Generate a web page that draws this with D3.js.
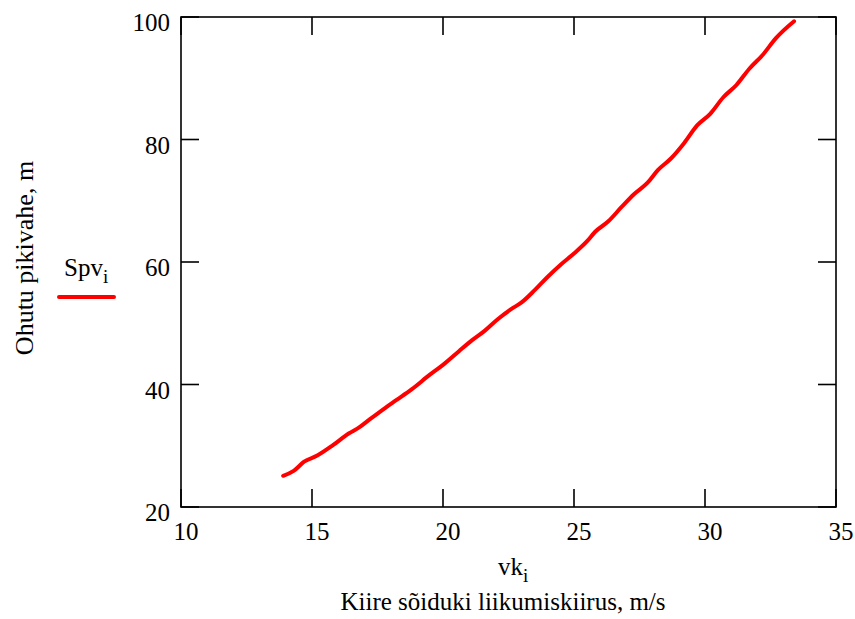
<!DOCTYPE html>
<html>
<head>
<meta charset="utf-8">
<script src="https://cdn.jsdelivr.net/npm/d3@7"></script>
<style>
  html, body { margin: 0; padding: 0; background: #fff; }
  svg text { font-family: "Liberation Serif", "Times New Roman", serif; fill: #000; }
</style>
</head>
<body>
<svg id="chart" width="855" height="619"></svg>
<script>
// ---- data ----
var speedValues = [13.9, 14.3, 14.7, 15.2, 15.8, 16.4, 16.8, 17.2, 17.8, 18.2,
                   18.8, 19.5, 20.0, 20.6, 21.1, 21.6, 22.1, 22.6, 23.0, 23.5,
                   24.0, 24.5, 25.0, 25.5, 25.8, 26.3, 26.8, 27.3, 27.8, 28.2,
                   28.7, 29.2, 29.7, 30.2, 30.7, 31.2, 31.7, 32.2, 32.7, 33.4];
var gapValues   = [25.1, 25.9, 27.4, 28.4, 30.1, 32.0, 33.0, 34.3, 36.2, 37.4,
                   39.2, 41.6, 43.2, 45.4, 47.2, 48.8, 50.7, 52.3, 53.4, 55.4,
                   57.6, 59.6, 61.4, 63.4, 64.9, 66.6, 68.9, 71.1, 72.9, 75.0,
                   76.9, 79.4, 82.3, 84.2, 86.9, 88.9, 91.6, 93.8, 96.5, 99.3];
var xTicks = [10, 15, 20, 25, 30, 35];
var yTicks = [20, 40, 60, 80, 100];

var svg = d3.select("#chart");
var plot = { left: 181, right: 836, top: 17, bottom: 507 };
var tickLen = 18;

var x = d3.scaleLinear().domain([10, 35]).range([plot.left, plot.right]);
var y = d3.scaleLinear().domain([20, 100]).range([plot.bottom, plot.top]);

// frame
svg.append("rect")
    .attr("x", plot.left).attr("y", plot.top)
    .attr("width", plot.right - plot.left).attr("height", plot.bottom - plot.top)
    .attr("fill", "none").attr("stroke", "#000").attr("stroke-width", 1.6);

// inward ticks on all four sides
var ticks = svg.append("g").attr("stroke", "#000").attr("stroke-width", 1.6);
xTicks.forEach(function(v) {
    ticks.append("line").attr("x1", x(v)).attr("x2", x(v))
        .attr("y1", plot.bottom).attr("y2", plot.bottom - tickLen);
    ticks.append("line").attr("x1", x(v)).attr("x2", x(v))
        .attr("y1", plot.top).attr("y2", plot.top + tickLen);
});
yTicks.forEach(function(v) {
    ticks.append("line").attr("x1", plot.left).attr("x2", plot.left + tickLen)
        .attr("y1", y(v)).attr("y2", y(v));
    ticks.append("line").attr("x1", plot.right).attr("x2", plot.right - tickLen)
        .attr("y1", y(v)).attr("y2", y(v));
});

// tick labels
svg.append("g").selectAll("text").data(xTicks).enter().append("text")
    .attr("x", function(d) { return x(d) + 5; })
    .attr("y", 540)
    .attr("text-anchor", "middle")
    .attr("font-size", "25px")
    .text(function(d) { return d; });

svg.append("g").selectAll("text").data(yTicks).enter().append("text")
    .attr("x", 170)
    .attr("y", function(d) { return y(d) + 14; })
    .attr("text-anchor", "end")
    .attr("font-size", "25px")
    .text(function(d) { return d; });

// curve
var line = d3.line()
    .curve(d3.curveMonotoneX)
    .x(function(d) { return x(d[0]); })
    .y(function(d) { return y(d[1]); });

svg.append("path")
    .datum(d3.zip(speedValues, gapValues))
    .attr("d", line)
    .attr("fill", "none")
    .attr("stroke", "#ff0000")
    .attr("stroke-width", 4)
    .attr("stroke-linejoin", "round")
    .attr("stroke-linecap", "round");

// legend
var legend = svg.append("text").attr("x", 64).attr("y", 276).attr("font-size", "25px");
legend.append("tspan").text("Spv");
legend.append("tspan").attr("font-size", "19px").attr("dy", 7).text("i");
svg.append("line")
    .attr("x1", 59).attr("x2", 114).attr("y1", 297).attr("y2", 297)
    .attr("stroke", "#ff0000").attr("stroke-width", 4).attr("stroke-linecap", "round");

// axis titles
var xName = svg.append("text").attr("x", 498).attr("y", 575).attr("font-size", "25px");
xName.append("tspan").text("vk");
xName.append("tspan").attr("font-size", "19px").attr("dy", 7).text("i");

svg.append("text")
    .attr("x", 503).attr("y", 610)
    .attr("text-anchor", "middle")
    .attr("font-size", "25px")
    .text("Kiire sõiduki liikumiskiirus, m/s");

svg.append("text")
    .attr("transform", "translate(33,258) rotate(-90)")
    .attr("text-anchor", "middle")
    .attr("font-size", "26px")
    .text("Ohutu pikivahe, m");
</script>
</body>
</html>
